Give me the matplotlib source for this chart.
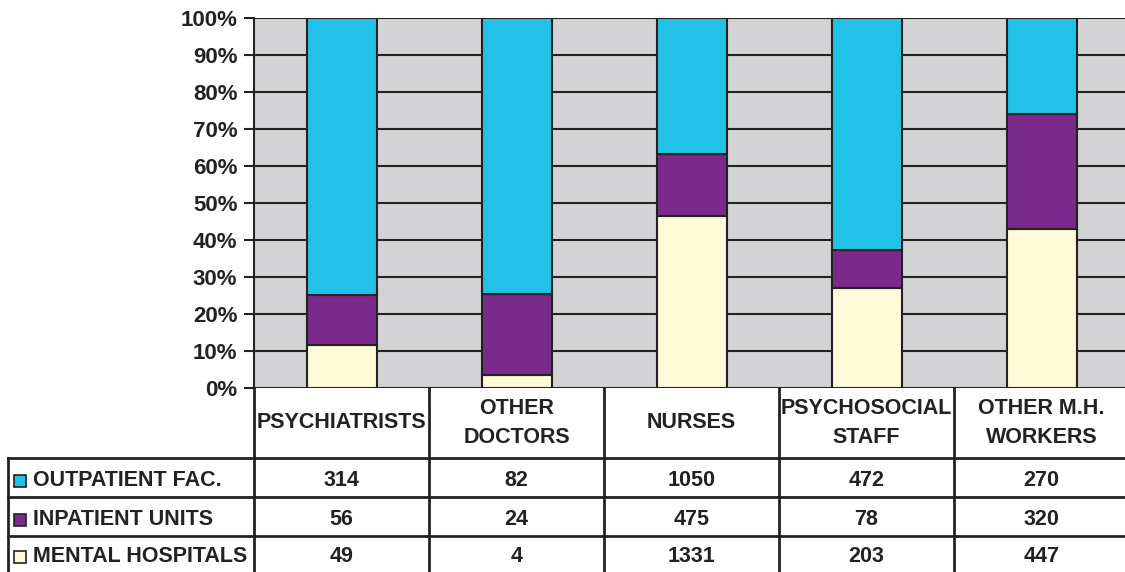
import numpy as np
import matplotlib.pyplot as plt

plt.rcParams['font.family'] = ['Liberation Sans', 'DejaVu Sans']
plt.rcParams['font.weight'] = 'bold'

# categories and series
groups = ["PSYCHIATRISTS", "OTHER\nDOCTORS", "NURSES", "PSYCHOSOCIAL\nSTAFF", "OTHER M.H.\nWORKERS"]
series = ["OUTPATIENT FAC.", "INPATIENT UNITS", "MENTAL HOSPITALS"]
outpatient = [314, 82, 1050, 472, 270]
inpatient = [56, 24, 475, 78, 320]
mental = [49, 4, 1331, 203, 447]
colors = ["#22C1E8", "#7A2A8A", "#FFFAD8"]

W, H = 1125, 572
fig = plt.figure(figsize=(W / 100, H / 100), dpi=100)

# pixel layout
x0, y_top, y_bot = 254, 18, 388
colw = 175
n = len(groups)
fs = 15.5

ax = fig.add_axes([x0 / W, 1 - y_bot / H, (n * colw) / W, (y_bot - y_top) / H])
vals = np.array([mental, inpatient, outpatient], dtype=float)
pct = vals / vals.sum(axis=0) * 100
xs = np.arange(n)
bottom = np.zeros(n)
for i, key in enumerate([2, 1, 0]):
    ax.bar(xs, pct[i], 0.4, bottom=bottom, color=colors[key],
           edgecolor="#222222", linewidth=1.5, zorder=3)
    bottom += pct[i]

ax.set_xlim(-0.5, n - 0.5)
ax.set_ylim(0, 100)
ax.set_facecolor("#D3D3D5")
ax.set_yticks(np.arange(0, 101, 10))
ax.set_yticklabels([f"{v}%" for v in range(0, 101, 10)], fontsize=16, fontweight='bold', color="#222222")
ax.set_xticks([])
ax.yaxis.grid(True, color="#222222", linewidth=1.5, zorder=1)
ax.tick_params(axis='y', length=7, width=1.5, color="#222222", pad=5)
for s in ["top", "right", "bottom"]:
    ax.spines[s].set_visible(False)
ax.spines["left"].set_linewidth(1.5)
ax.spines["left"].set_color("#222222")

# data table drawn in pixel space
tb = fig.add_axes([0, 0, 1, 1], zorder=-1)
tb.set_xlim(0, W)
tb.set_ylim(H, 0)
tb.axis("off")
lc = dict(color="#222222", linewidth=2)
rows_y = [388, 458, 497, 536, 575]
x_end = x0 + n * colw
tb.plot([x0, x0], [rows_y[0], H], **lc)
for j in range(1, n + 1):
    tb.plot([x0 + j * colw] * 2, [rows_y[0], H], **lc)
tb.plot([8, 8], [rows_y[1], H], **lc)
for y in rows_y[1:4]:
    tb.plot([8, x_end], [y, y], **lc)
for j, g in enumerate(groups):
    tb.text(x0 + (j + 0.5) * colw, (rows_y[0] + rows_y[1]) / 2, g, ha="center", va="center",
            fontsize=fs, fontweight="bold", color="#222222", linespacing=1.45)
data = [outpatient, inpatient, mental]
for r in range(3):
    yc = (rows_y[r + 1] + min(rows_y[r + 2], H)) / 2 + 3
    tb.add_patch(plt.Rectangle((14, yc - 6), 12, 12, facecolor=colors[r],
                               edgecolor="#222222", linewidth=1.2))
    tb.text(33, yc, series[r], ha="left", va="center", fontsize=fs,
            fontweight="bold", color="#222222")
    for j in range(n):
        tb.text(x0 + (j + 0.5) * colw, yc, str(data[r][j]), ha="center", va="center",
                fontsize=fs, fontweight="bold", color="#222222")

fig.savefig("out.png", dpi=100)
